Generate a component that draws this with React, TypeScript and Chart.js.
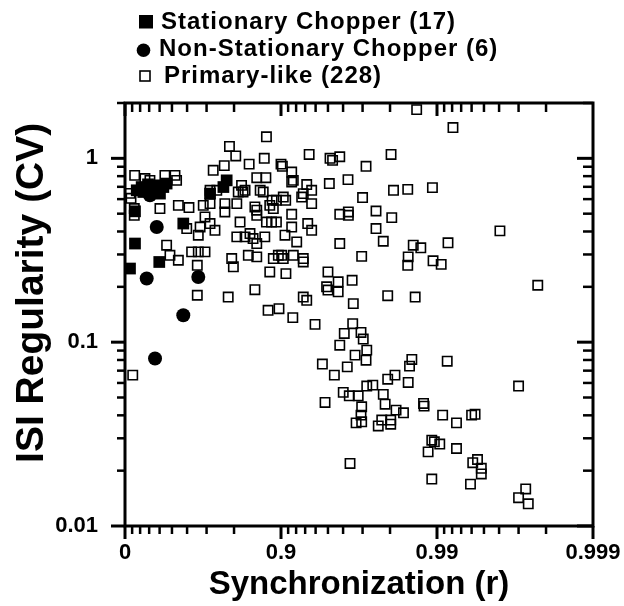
import React, { useEffect, useRef } from 'react';
import { Chart, registerables } from 'chart.js';

Chart.register(...registerables);

const FONT = '"Liberation Sans", Arial, Helvetica, sans-serif';

const seriesNames = ['Stationary Chopper (17)', 'Non-Stationary Chopper (6)', 'Primary-like (228)'];
const xTitle = 'Synchronization (r)';
const yTitle = 'ISI Regularity (CV)';

const xTickValues = [0, 0.9, 0.99, 0.999];
const xTickLabels = ['0', '0.9', '0.99', '0.999'];
const yTickValues = [0.01, 0.1, 1];
const yTickLabels = ['0.01', '0.1', '1'];
const yMin = 0.01;
const yMax = 2;

const stationaryR = [0.218, 0.237, 0.159, 0.288, 0.388, 0.432, 0.403, 0.459, 0.137, 0.137, 0.577, 0.397, 0.071, 0.715, 0.766, 0.777, 0.329];
const stationaryCV = [0.698, 0.656, 0.67, 0.722, 0.713, 0.698, 0.643, 0.729, 0.515, 0.344, 0.442, 0.273, 0.2515, 0.643, 0.698, 0.759, 0.67];

const nonStationaryR = [0.374, 0.274, 0.661, 0.577, 0.358, 0.308];
const nonStationaryCV = [0.423, 0.222, 0.226, 0.14, 0.0815, 0.629];

const primaryR = [
  0.876, 0.786, 0.805, 0.872, 0.934, 0.9515, 0.9533, 0.958, 0.9715, 0.84,
  0.9, 0.902, 0.9146, 0.769, 0.728, 0.133, 0.255, 0.445, 0.522, 0.857,
  0.875, 0.9166, 0.9146, 0.9628, 0.951, 0.9316, 0.9364, 0.821, 0.83, 0.715,
  0.742, 0.812, 0.825, 0.864, 0.87, 0.886, 0.893, 0.9033, 0.9067, 0.9263,
  0.928, 0.9364, 0.97, 0.085, 0.545, 0.611, 0.403, 0.128, 0.128, 0.685,
  0.715, 0.771, 0.771, 0.808, 0.853, 0.857, 0.857, 0.882, 0.888, 0.9146,
  0.876, 0.885, 0.893, 0.817, 0.693, 0.715, 0.958, 0.963, 0.963, 0.9326,
  0.9364, 0.9146, 0.67, 0.661, 0.735, 0.598, 0.808, 0.83, 0.842, 0.849,
  0.857, 0.873, 0.9057, 0.9207, 0.958, 0.459, 0.485, 0.545, 0.626, 0.661,
  0.693, 0.793, 0.798, 0.838, 0.857, 0.888, 0.896, 0.901, 0.9033, 0.9166,
  0.928, 0.928, 0.9696, 0.656, 0.882, 0.907, 0.95, 0.957, 0.949, 0.95,
  0.957, 0.965, 0.656, 0.782, 0.853, 0.928, 0.9316, 0.9656, 0.879, 0.897,
  0.916, 0.533, 0.071, 0.308, 0.9865, 0.9921, 0.9803, 0.981, 0.9846, 0.9893,
  0.9754, 0.9805, 0.9754, 0.9779, 0.9858, 0.9873, 0.9915, 0.99605, 0.9847, 0.9846,
  0.9894, 0.9906, 0.9793, 0.9862, 0.99774, 0.108, 0.9395, 0.9653, 0.9607, 0.9693,
  0.9703, 0.958, 0.9718, 0.9665, 0.9457, 0.9545, 0.9624, 0.9715, 0.9601, 0.9635,
  0.968, 0.9696, 0.9693, 0.967, 0.9696, 0.9478, 0.9639, 0.9718, 0.9855, 0.985,
  0.9914, 0.997, 0.9793, 0.9814, 0.9847, 0.9742, 0.9779, 0.9785, 0.9817, 0.9836,
  0.9802, 0.9802, 0.9762, 0.9774, 0.9878, 0.9879, 0.9908, 0.9925, 0.994, 0.9943,
  0.9892, 0.9896, 0.9904, 0.9886, 0.9925, 0.9945, 0.9941, 0.9948, 0.9948, 0.9892,
  0.9939, 0.9973, 0.997, 0.9974,
];
const primaryCV = [
  1.31, 1.16, 1.03, 1.0, 1.05, 1.0, 0.975, 1.02, 0.905, 0.93,
  0.93, 0.905, 0.842, 0.913, 0.861, 0.808, 0.776, 0.808, 0.808, 0.785,
  0.785, 0.759, 0.743, 0.766, 0.729, 0.72, 0.67, 0.713, 0.67, 0.67,
  0.67, 0.656, 0.656, 0.67, 0.656, 0.591, 0.591, 0.616, 0.591, 0.616,
  0.643, 0.567, 0.612, 0.606, 0.555, 0.54, 0.533, 0.533, 0.49, 0.555,
  0.567, 0.567, 0.511, 0.567, 0.544, 0.522, 0.49, 0.555, 0.533, 0.496,
  0.45, 0.45, 0.45, 0.45, 0.48, 0.442, 0.496, 0.511, 0.49, 0.442,
  0.406, 0.423, 0.423, 0.382, 0.406, 0.415, 0.374, 0.374, 0.39, 0.366,
  0.344, 0.374, 0.382, 0.351, 0.344, 0.337, 0.297, 0.279, 0.31, 0.31,
  0.31, 0.285, 0.257, 0.297, 0.291, 0.285, 0.297, 0.297, 0.285, 0.297,
  0.285, 0.273, 0.293, 0.262, 0.241, 0.236, 0.241, 0.213, 0.2, 0.192,
  0.188, 0.217, 0.18, 0.176, 0.193, 0.176, 0.169, 0.162, 0.149, 0.152,
  0.136, 0.759, 0.645, 0.759, 1.84, 1.47, 1.05, 0.67, 0.678, 0.693,
  0.517, 0.476, 0.415, 0.354, 0.337, 0.326, 0.347, 0.403, 0.291, 0.262,
  0.277, 0.265, 0.179, 0.176, 0.204, 0.0662, 0.125, 0.126, 0.1115, 0.113,
  0.104, 0.0963, 0.0905, 0.085, 0.076, 0.0662, 0.0734, 0.0798, 0.0533, 0.0511,
  0.0511, 0.0445, 0.0401, 0.0364, 0.0369, 0.047, 0.0219, 0.0577, 0.0805, 0.0741,
  0.0788, 0.0577, 0.0629, 0.0662, 0.0604, 0.0584, 0.052, 0.046, 0.0427, 0.0413,
  0.0377, 0.0358, 0.035, 0.0377, 0.0464, 0.0449, 0.0401, 0.0364, 0.0401, 0.0405,
  0.0293, 0.0287, 0.0279, 0.0253, 0.0264, 0.023, 0.0221, 0.0206, 0.0192, 0.018,
  0.0169, 0.0159, 0.01425, 0.0132,
];

// axis transform: synchronization r is plotted on a "nines" scale, -log10(1 - r)
const nines = (r: number) => -Math.log10(1 - r);
const toPoints = (rs: number[], cvs: number[]) => rs.map((r, i) => ({ x: nines(r), y: cvs[i] }));

const framePlugin = {
  id: 'frameTicksLegend',
  afterDraw(chart: any) {
    const { ctx, chartArea: a, scales } = chart;
    const xs = scales.x;
    const ys = scales.y;
    ctx.save();
    ctx.strokeStyle = '#000';
    ctx.fillStyle = '#000';
    ctx.lineCap = 'butt';
    const seg = (x1: number, y1: number, x2: number, y2: number, w: number) => {
      ctx.lineWidth = w;
      ctx.beginPath();
      ctx.moveTo(x1, y1);
      ctx.lineTo(x2, y2);
      ctx.stroke();
    };
    // x-axis tick marks (bottom outward, top inward)
    for (let d = 0; d < 3; d++) {
      const base = 1 - Math.pow(10, -d);
      const step = Math.pow(10, -d - 1);
      for (let k = 0; k <= 8; k++) {
        const px = xs.getPixelForValue(nines(base + k * step));
        const major = k === 0;
        seg(px, a.bottom, px, a.bottom + (major ? 13 : 8), major ? 3 : 2.5);
        seg(px, a.top, px, a.top + (major ? 13 : 9), major ? 3 : 2.5);
      }
    }
    const pEnd = xs.getPixelForValue(nines(xTickValues[xTickValues.length - 1]));
    seg(pEnd, a.bottom, pEnd, a.bottom + 13, 3);
    // y-axis tick marks (left outward, right inward)
    for (let d = -2; d <= 0; d++) {
      for (let k = 1; k <= 9; k++) {
        const v = k * Math.pow(10, d);
        if (v > yMax + 1e-9) break;
        const py = ys.getPixelForValue(v);
        const major = k === 1;
        seg(a.left - (major ? 14 : 8), py, a.left, py, major ? 3 : 2.5);
        seg(a.right - (major ? 16 : 10), py, a.right, py, major ? 3 : 2.5);
      }
    }
    // frame
    ctx.lineWidth = 3;
    ctx.strokeRect(a.left, a.top, a.right - a.left, a.bottom - a.top);

    // legend
    ctx.font = `bold 24px ${FONT}`;
    ctx.textBaseline = 'alphabetic';
    ctx.textAlign = 'left';
    try { (ctx as any).letterSpacing = '1px'; } catch (e) {}
    // filled square
    ctx.fillRect(139, 15, 14, 13.5);
    ctx.fillText(seriesNames[0], 161, 28.5);
    // filled circle
    ctx.beginPath();
    ctx.arc(143.5, 50.3, 6.8, 0, Math.PI * 2);
    ctx.fill();
    ctx.fillText(seriesNames[1], 159, 56);
    // open square
    ctx.lineWidth = 1.6;
    ctx.strokeRect(140, 71, 10, 10);
    ctx.fillText(seriesNames[2], 164, 83);
    try { (ctx as any).letterSpacing = '0px'; } catch (e) {}
    ctx.restore();
  },
};

export default function App() {
  const ref = useRef<HTMLCanvasElement>(null);
  useEffect(() => {
    if (!ref.current) return;
    const hiddenGrid = (len: number) => ({
      display: true,
      drawOnChartArea: false,
      drawTicks: true,
      tickLength: len,
      color: 'rgba(0,0,0,0)',
    });
    const chart = new Chart(ref.current, {
      type: 'scatter',
      data: {
        datasets: [
          {
            label: seriesNames[0],
            data: toPoints(stationaryR, stationaryCV),
            pointStyle: 'rect',
            pointRadius: 8.3,
            backgroundColor: '#000',
            borderColor: '#000',
            borderWidth: 0,
            clip: false as any,
          },
          {
            label: seriesNames[1],
            data: toPoints(nonStationaryR, nonStationaryCV),
            pointStyle: 'circle',
            pointRadius: 7,
            backgroundColor: '#000',
            borderColor: '#000',
            borderWidth: 0,
            clip: false as any,
          },
          {
            label: seriesNames[2],
            data: toPoints(primaryR, primaryCV),
            pointStyle: 'rect',
            pointRadius: 6.6,
            backgroundColor: 'rgba(0,0,0,0)',
            borderColor: '#000',
            borderWidth: 1.6,
            clip: false as any,
          },
        ],
      },
      options: {
        animation: false,
        responsive: true,
        maintainAspectRatio: false,
        events: [],
        layout: { padding: { top: 103, right: 31, left: 0, bottom: 0 } },
        plugins: { legend: { display: false }, tooltip: { enabled: false } },
        scales: {
          x: {
            type: 'linear',
            min: nines(xTickValues[0]),
            max: nines(xTickValues[xTickValues.length - 1]),
            grid: hiddenGrid(14),
            border: { display: false },
            afterBuildTicks: (s: any) => {
              s.ticks = xTickValues.map((v) => ({ value: nines(v) }));
            },
            afterFit: (s: any) => {
              s.height = 80;
            },
            ticks: {
              autoSkip: false,
              maxRotation: 0,
              padding: 0,
              color: '#000',
              font: { family: FONT, size: 22, weight: 'bold' },
              callback: (_v: any, i: number) => xTickLabels[i],
            },
            title: {
              display: true,
              text: xTitle,
              color: '#000',
              font: { family: FONT, size: 33, weight: 'bold' },
              padding: { top: 0, bottom: 1 },
            },
          },
          y: {
            type: 'logarithmic',
            min: yMin,
            max: yMax,
            grid: hiddenGrid(27),
            border: { display: false },
            afterBuildTicks: (s: any) => {
              s.ticks = yTickValues.map((v) => ({ value: v }));
            },
            afterFit: (s: any) => {
              s.width = 125;
            },
            ticks: {
              autoSkip: false,
              padding: 0,
              color: '#000',
              font: { family: FONT, size: 22, weight: 'bold' },
              callback: (_v: any, i: number) => yTickLabels[i],
            },
            title: {
              display: true,
              text: '    ' + yTitle,
              color: '#000',
              font: { family: FONT, size: 39, weight: 'bold' },
              padding: { top: 9, bottom: 0 },
            },
          },
        },
      },
      plugins: [framePlugin],
    } as any);
    return () => chart.destroy();
  }, []);
  return (
    <div style={{ position: 'absolute', left: 0, top: 0, width: 624, height: 606 }}>
      <canvas ref={ref} />
    </div>
  );
}
